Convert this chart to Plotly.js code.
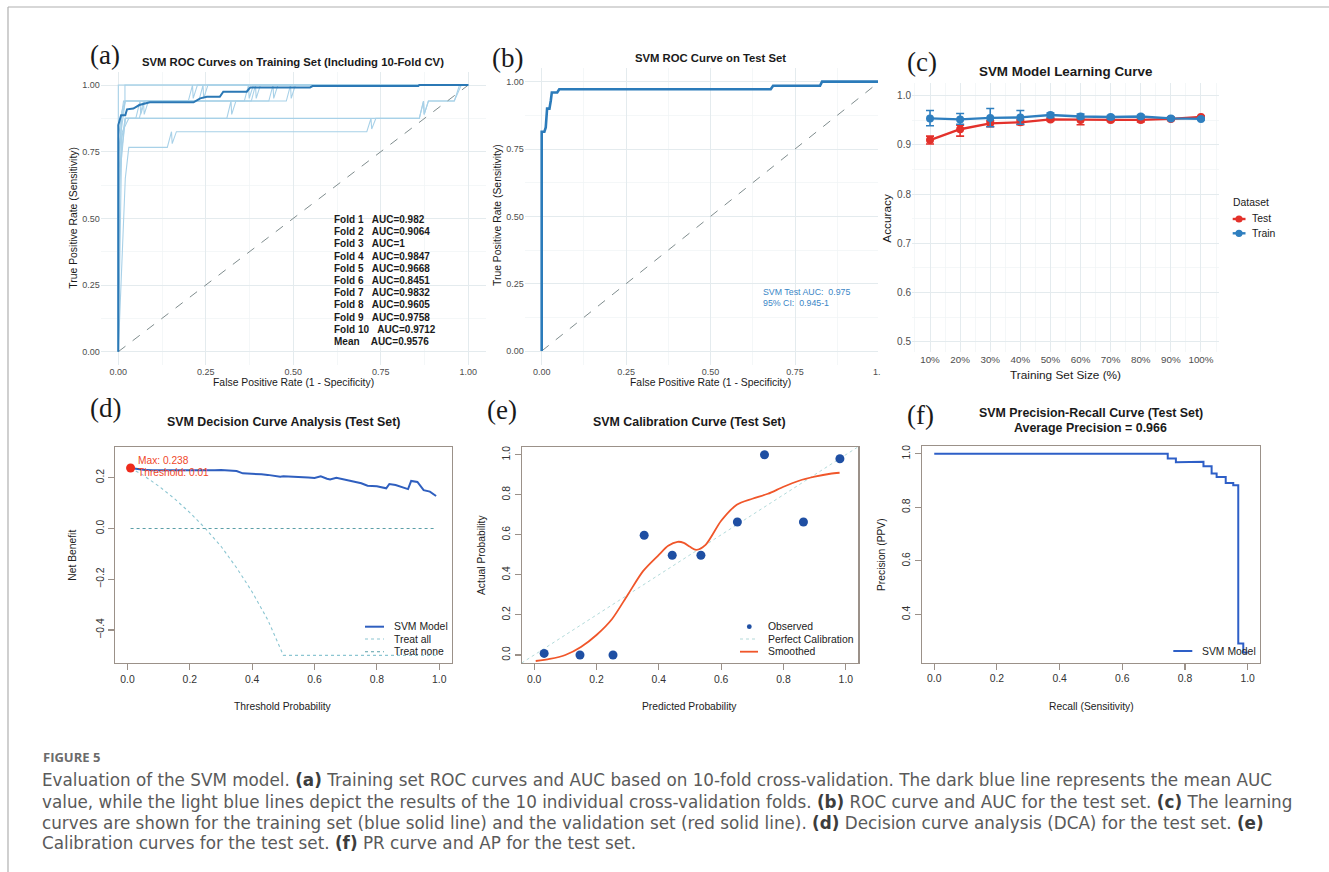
<!DOCTYPE html>
<html><head><meta charset="utf-8">
<script src="https://cdn.plot.ly/plotly-3.0.1.min.js"></script>
<style>html,body{margin:0;padding:0;background:#fff;overflow:hidden}#chart{width:1329px;height:872px}</style>
</head><body><div id="chart"></div>
<script>
// ---------- (a) training ROC, 10-fold CV ----------
const foldNames = ["Fold 1","Fold 2","Fold 3","Fold 4","Fold 5","Fold 6","Fold 7","Fold 8","Fold 9","Fold 10"];
const foldAUC = ["0.982","0.9064","1","0.9847","0.9668","0.8451","0.9832","0.9605","0.9758","0.9712"];
const meanAUC = "0.9576";
const foldFPR = [
  [0,0,0.01,0.02,0.2,0.212,0.214,0.226,1],
  [0,0,0.01,0.03,0.86,0.872,0.874,0.886,0.96,0.975,1],
  [0,0,1],
  [0,0,0.015,0.23,0.242,0.244,0.256,1],
  [0,0,0.02,0.05,0.062,0.064,0.076,0.43,0.442,0.444,0.456,1],
  [0,0.02,0.03,0.14,0.152,0.154,0.166,0.71,0.722,0.724,0.736,0.86,0.872,0.874,0.886,0.96,0.98,1],
  [0,0,0.01,0.019,0.019,1],
  [0,0.005,0.02,0.31,0.322,0.324,0.336,0.36,0.372,0.374,0.386,1],
  [0,0,0.02,0.38,0.392,0.394,0.406,1],
  [0,0.01,0.02,0.06,0.072,0.074,0.086,0.48,0.492,0.494,0.506,1]
];
const foldTPR = [
  [0,0.7,0.88,0.94,0.94,1,0.95,1,1],
  [0,0.5,0.82,0.875,0.875,0.94,0.89,0.94,0.94,1,1],
  [0,1,1],
  [0,0.8,0.94,0.94,1,0.95,1,1],
  [0,0.6,0.875,0.875,0.94,0.89,0.94,0.94,1,0.95,1,1],
  [0,0.65,0.766,0.766,0.825,0.78,0.825,0.825,0.875,0.835,0.875,0.875,0.94,0.89,0.94,0.94,1,1],
  [0,0.6,0.9,0.94,1,1],
  [0,0.7,0.875,0.875,0.94,0.89,0.94,0.94,1,0.95,1,1],
  [0,0.75,0.94,0.94,1,0.95,1,1],
  [0,0.8,0.875,0.875,0.94,0.89,0.94,0.94,1,0.95,1,1]
];
const meanFPR = [0,0,0.008,0.02,0.025,0.043,0.06,0.09,0.215,0.234,0.253,0.29,0.3,0.367,0.377,0.548,0.555,0.857,0.86,1];
const meanTPR = [0,0.85,0.887,0.887,0.909,0.912,0.925,0.935,0.935,0.95,0.956,0.956,0.975,0.975,0.991,0.991,0.996,0.996,1,1];
const chanceLine = [0,1];

// ---------- (b) test ROC ----------
const testFPR = [0,0,0.008,0.012,0.016,0.023,0.027,0.03,0.046,0.052,0.678,0.685,0.824,0.83,1];
const testTPR = [0,0.814,0.814,0.83,0.9,0.9,0.93,0.96,0.96,0.972,0.972,0.985,0.985,1,1];
const testAUCText = ["SVM Test AUC:  0.975","95% CI:  0.945-1"];

// ---------- (c) learning curve ----------
const sizePct = [10,20,30,40,50,60,70,80,90,100];
const trainAcc = [0.954,0.952,0.955,0.956,0.961,0.958,0.957,0.958,0.954,0.953];
const trainHi  = [0.970,0.964,0.974,0.970,0.965,0.963,0.960,0.961,0.956,0.955];
const trainLo  = [0.939,0.942,0.937,0.942,0.956,0.954,0.953,0.955,0.952,0.951];
const testAcc  = [0.910,0.932,0.944,0.946,0.952,0.951,0.951,0.951,0.953,0.957];
const testHi   = [0.918,0.940,0.949,0.951,0.954,0.957,0.954,0.955,0.956,0.959];
const testLo   = [0.902,0.918,0.937,0.941,0.949,0.941,0.948,0.947,0.950,0.955];

// ---------- (d) decision curve ----------
const dcaThresh = [0.01,0.03,0.05,0.08,0.1,0.13,0.15,0.18,0.2,0.23,0.25,0.28,0.3,0.33,0.35,0.37,0.4,0.43,0.45,0.47,0.49,0.5,0.53,0.55,0.58,0.6,0.62,0.64,0.65,0.67,0.7,0.72,0.75,0.77,0.8,0.83,0.84,0.86,0.88,0.9,0.91,0.93,0.95,0.97,0.99];
const dcaModel  = [0.238,0.233,0.231,0.229,0.229,0.228,0.229,0.228,0.228,0.227,0.228,0.229,0.230,0.229,0.226,0.217,0.216,0.213,0.211,0.208,0.204,0.206,0.205,0.203,0.201,0.199,0.205,0.196,0.193,0.2,0.191,0.184,0.178,0.168,0.166,0.158,0.175,0.171,0.164,0.155,0.187,0.183,0.151,0.145,0.128];
const treatAllThresh = [0.01,0.05,0.1,0.15,0.2,0.25,0.3,0.35,0.4,0.45,0.5,0.99];
const treatAllNB     = [0.238,0.21,0.167,0.118,0.0625,0,-0.07,-0.155,-0.25,-0.36,-0.5,-0.5];
const treatNoneThresh = [0.01,0.99];
const treatNoneNB = [0,0];
const maxThresh = [0.01], maxNB = [0.238];

// ---------- (e) calibration ----------
const calPred = [0.032,0.147,0.253,0.353,0.443,0.535,0.652,0.739,0.864,0.981];
const calObs  = [0.008,0,0,0.598,0.498,0.498,0.664,1.0,0.664,0.98];
const smoothPred = [0.005,0.05,0.1,0.15,0.2,0.25,0.3,0.35,0.4,0.43,0.46,0.48,0.5,0.52,0.55,0.6,0.65,0.7,0.75,0.8,0.85,0.9,0.95,0.98];
const smoothObs  = [-0.03,-0.02,0.0,0.04,0.1,0.18,0.3,0.42,0.5,0.545,0.565,0.56,0.54,0.525,0.55,0.67,0.75,0.78,0.805,0.84,0.87,0.89,0.905,0.91];
const perfectLine = [-0.04,1.04];

// ---------- (f) precision-recall ----------
const prRecall    = [0,0.745,0.745,0.771,0.771,0.80,0.81,0.859,0.859,0.885,0.885,0.901,0.901,0.93,0.93,0.954,0.954,0.97,0.97,0.986,0.986,1.0];
const prPrecision = [1,1,0.982,0.982,0.968,0.968,0.97,0.97,0.953,0.953,0.926,0.926,0.913,0.913,0.891,0.891,0.882,0.882,0.292,0.292,0.258,0.258];

// ---------- caption ----------
const captionHead = "FIGURE 5";
const captionLines = [
  "Evaluation of the SVM model. <b>(a)</b> Training set ROC curves and AUC based on 10-fold cross-validation. The dark blue line represents the mean AUC",
  "value, while the light blue lines depict the results of the 10 individual cross-validation folds. <b>(b)</b> ROC curve and AUC for the test set. <b>(c)</b> The learning",
  "curves are shown for the training set (blue solid line) and the validation set (red solid line). <b>(d)</b> Decision curve analysis (DCA) for the test set. <b>(e)</b>",
  "Calibration curves for the test set. <b>(f)</b> PR curve and AP for the test set."
];

// ================= layout helpers =================
const W = 1329, H = 872;
const px = v => v / W, py = v => 1 - v / H;
const SANS = "Liberation Sans, Arial, sans-serif";
const SERIF = "Liberation Serif, Times New Roman, serif";
const dx = (a, b) => [px(a), px(b)];
const dy = (top, bot) => [py(bot), py(top)];

const traces = [];
// (a)
foldFPR.forEach((f, i) => traces.push({x: f, y: foldTPR[i], xaxis: 'x', yaxis: 'y', mode: 'lines',
  line: {color: '#a8d1e8', width: 1.1}, name: foldNames[i], showlegend: false, hoverinfo: 'skip'}));
traces.push({x: chanceLine, y: chanceLine, xaxis: 'x', yaxis: 'y', mode: 'lines',
  line: {color: '#7f8c8d', width: 1, dash: 'dash'}, showlegend: false});
traces.push({x: meanFPR, y: meanTPR, xaxis: 'x', yaxis: 'y', mode: 'lines',
  line: {color: '#2b78b5', width: 2}, name: 'Mean', showlegend: false});
// (b)
traces.push({x: chanceLine, y: chanceLine, xaxis: 'x2', yaxis: 'y2', mode: 'lines',
  line: {color: '#7f8c8d', width: 1, dash: 'dash'}, showlegend: false});
traces.push({x: testFPR, y: testTPR, xaxis: 'x2', yaxis: 'y2', mode: 'lines',
  line: {color: '#2b7bba', width: 2.6}, showlegend: false});
// (c)
const RED = '#e3312b', BLUE = '#2f7fbf';
traces.push({x: sizePct, y: testAcc, xaxis: 'x3', yaxis: 'y3', mode: 'lines+markers', name: 'Test',
  line: {color: RED, width: 2.4}, marker: {color: RED, size: 8},
  error_y: {type: 'data', symmetric: false, array: testHi.map((h, i) => h - testAcc[i]),
    arrayminus: testLo.map((l, i) => testAcc[i] - l), color: RED, thickness: 1.6, width: 4}, showlegend: false});
traces.push({x: sizePct, y: trainAcc, xaxis: 'x3', yaxis: 'y3', mode: 'lines+markers', name: 'Train',
  line: {color: BLUE, width: 2.4}, marker: {color: BLUE, size: 8},
  error_y: {type: 'data', symmetric: false, array: trainHi.map((h, i) => h - trainAcc[i]),
    arrayminus: trainLo.map((l, i) => trainAcc[i] - l), color: BLUE, thickness: 1.6, width: 4}, showlegend: false});
// (d)
traces.push({x: treatAllThresh, y: treatAllNB, xaxis: 'x4', yaxis: 'y4', mode: 'lines', line: {color: '#8cc6d2', width: 1.1, dash: 'dot'}, showlegend: false});
traces.push({x: treatNoneThresh, y: treatNoneNB, xaxis: 'x4', yaxis: 'y4', mode: 'lines', line: {color: '#5b9fa8', width: 1.1, dash: 'dot'}, showlegend: false});
traces.push({x: dcaThresh, y: dcaModel, xaxis: 'x4', yaxis: 'y4', mode: 'lines', line: {color: '#2f5fbf', width: 2}, showlegend: false});
traces.push({x: maxThresh, y: maxNB, xaxis: 'x4', yaxis: 'y4', mode: 'markers', marker: {color: '#ee2b1c', size: 9}, showlegend: false});
// (e)
traces.push({x: perfectLine, y: perfectLine, xaxis: 'x5', yaxis: 'y5', mode: 'lines', line: {color: '#b3dada', width: 1, dash: 'dot'}, showlegend: false});
traces.push({x: smoothPred, y: smoothObs, xaxis: 'x5', yaxis: 'y5', mode: 'lines', line: {color: '#f0562a', width: 1.8, shape: 'spline', smoothing: 0.8}, showlegend: false});
traces.push({x: calPred, y: calObs, xaxis: 'x5', yaxis: 'y5', mode: 'markers', marker: {color: '#1f4fa3', size: 9}, showlegend: false});
// (f)
traces.push({x: prRecall, y: prPrecision, xaxis: 'x6', yaxis: 'y6', mode: 'lines', line: {color: '#2e5fc7', width: 2}, showlegend: false});

// axes
const gg = (extra) => Object.assign({showgrid: true, gridcolor: '#e4ebee', gridwidth: 1, zeroline: false, showline: false,
  ticks: '', tickfont: {family: SANS, size: 9, color: '#4d4d4d'}, fixedrange: true}, extra);
const rb = (extra) => Object.assign({showgrid: false, zeroline: false, showline: true, mirror: true, linecolor: '#9b9189',
  linewidth: 1.2, ticks: 'outside', ticklen: 6, tickwidth: 1.1, tickcolor: '#9b9189',
  tickfont: {family: SANS, size: 10.4, color: '#333'}, fixedrange: true}, extra);
const minorG = (d) => ({dtick: d, showgrid: true, gridcolor: '#f0f4f5', gridwidth: 0.7});

const layout = {
  width: W, height: H, margin: {l: 0, r: 0, t: 0, b: 0}, paper_bgcolor: '#fff', plot_bgcolor: 'rgba(0,0,0,0)',
  font: {family: SANS}, showlegend: false,
  xaxis:  gg({domain: dx(100.8, 485.8), range: [-0.05, 1.05], tick0: 0, dtick: 0.25, tickformat: '.2f', minor: minorG(0.125), anchor: 'y'}),
  yaxis:  gg({domain: dy(71.7, 365), range: [-0.05, 1.05], tick0: 0, dtick: 0.25, tickformat: '.2f', minor: minorG(0.125), anchor: 'x'}),
  xaxis2: gg({domain: dx(524.8, 878), range: [-0.05, 0.9956], tick0: 0, dtick: 0.25, tickformat: '.2f', minor: minorG(0.125), anchor: 'y2'}),
  yaxis2: gg({domain: dy(68.2, 364.5), range: [-0.05, 1.05], tick0: 0, dtick: 0.25, tickformat: '.2f', minor: minorG(0.125), anchor: 'x2'}),
  xaxis3: gg({domain: dx(912, 1219), range: [4.02, 105.98], tick0: 10, dtick: 10, ticksuffix: '%', minor: Object.assign(minorG(10), {tick0: 5}), anchor: 'y3', tickfont: {family: SANS, size: 9.8, color: '#4d4d4d'}}),
  yaxis3: gg({domain: dy(83, 352), range: [0.479, 1.026], tick0: 0.5, dtick: 0.1, tickformat: '.1f', minor: minorG(0.05), anchor: 'x3', tickfont: {family: SANS, size: 10, color: '#4d4d4d'}}),
  xaxis4: rb({domain: dx(115, 451.7), range: [-0.04, 1.04], tick0: 0, dtick: 0.2, tickformat: '.1f', anchor: 'y4'}),
  yaxis4: rb({domain: dy(446.7, 663), range: [-0.53, 0.322], tickvals: [-0.4, -0.2, 0, 0.2], tickformat: '.1f', tickangle: -90, anchor: 'x4'}),
  xaxis5: rb({domain: dx(521.7, 858.3), range: [-0.04, 1.04], tick0: 0, dtick: 0.2, tickformat: '.1f', anchor: 'y5'}),
  yaxis5: rb({domain: dy(446.7, 663), range: [-0.04, 1.04], tick0: 0, dtick: 0.2, tickformat: '.1f', tickangle: -90, anchor: 'x5'}),
  xaxis6: rb({domain: dx(921.7, 1260.2), range: [-0.04, 1.04], tick0: 0, dtick: 0.2, tickformat: '.1f', anchor: 'y6'}),
  yaxis6: rb({domain: dy(445.7, 662.7), range: [0.22, 1.03], tickvals: [0.4, 0.6, 0.8, 1.0], tickformat: '.1f', tickangle: -90, anchor: 'x6'}),
  annotations: [], shapes: []
};

const A = layout.annotations, S = layout.shapes;
const ann = (text, x, y, o) => A.push(Object.assign({text, xref: 'paper', yref: 'paper', x: px(x), y: py(y),
  showarrow: false, xanchor: 'center', yanchor: 'middle', borderpad: 0}, o || {}));
const f = (size, color, family) => ({family: family || SANS, size, color: color || '#1a1a1a'});

// panel letters
[["(a)", 105, 55], ["(b)", 507, 58.3], ["(c)", 921.7, 61.7], ["(d)", 105.8, 408.3], ["(e)", 501.7, 410], ["(f)", 920, 415]]
  .forEach(([t, x, y]) => ann(t, x, y, {font: f(27, '#1a1a1a', SERIF)}));
// titles
ann("<b>SVM ROC Curves on Training Set (Including 10-Fold CV)</b>", 293.3, 61.7, {font: f(11.3)});
ann("<b>SVM ROC Curve on Test Set</b>", 710.5, 58.3, {font: f(11.3)});
ann("<b>SVM Model Learning Curve</b>", 1065.3, 71.7, {font: f(13.4)});
ann("<b>SVM Decision Curve Analysis (Test Set)</b>", 283, 422.3, {font: f(12.4)});
ann("<b>SVM Calibration Curve (Test Set)</b>", 689.7, 422.3, {font: f(12.4)});
ann("<b>SVM Precision-Recall Curve (Test Set)</b>", 1090.8, 413.3, {font: f(12.4)});
ann("<b>Average Precision = 0.966</b>", 1090.8, 428.3, {font: f(12.4)});
// axis titles
ann("False Positive Rate (1 - Specificity)", 293.7, 382.3, {font: f(10.4)});
ann("True Positive Rate (Sensitivity)", 72.7, 218, {font: f(10.4), textangle: -90});
ann("False Positive Rate (1 - Specificity)", 710.7, 382.3, {font: f(10.4)});
ann("True Positive Rate (Sensitivity)", 497, 215, {font: f(10.4), textangle: -90});
ann("Training Set Size (%)", 1065.3, 375, {font: f(11.8)});
ann("Accuracy", 886.7, 218, {font: f(11.8), textangle: -90});
ann("Threshold Probability", 283.3, 706.7, {font: f(10.3, '#222')});
ann("Net Benefit", 71.7, 555, {font: f(10.3, '#222'), textangle: -90});
ann("Predicted Probability", 689.8, 706.7, {font: f(10.3, '#222')});
ann("Actual Probability", 481, 555, {font: f(10.3, '#222'), textangle: -90});
ann("Recall (Sensitivity)", 1091, 706.7, {font: f(10.3, '#222')});
ann("Precision (PPV)", 881, 555, {font: f(10.3, '#222'), textangle: -90});

// (a) fold AUC list
const NB = '\u00a0';
foldNames.forEach((n, i) => ann(`<b>${n}${NB.repeat(3)}AUC=${foldAUC[i]}</b>`, 333, 219.3 + 12.24 * i, {xanchor: 'left', font: f(10, '#1a1a1a')}));
ann(`<b>Mean${NB.repeat(4)}AUC=${meanAUC}</b>`, 333, 219.3 + 12.24 * 10, {xanchor: 'left', font: f(10, '#1a1a1a')});
// (b) AUC text
ann(testAUCText[0].replace(/  /g, NB + NB), 761.7, 291.7, {xanchor: 'left', font: f(8.8, '#3a86c6')});
ann(testAUCText[1].replace(/  /g, NB + NB), 761.7, 303.3, {xanchor: 'left', font: f(8.8, '#3a86c6')});
ann("1.", 872, 371.7, {xanchor: 'left', font: f(9, '#4d4d4d')});
// (d) max label
ann("Max: 0.238", 136.7, 460.7, {xanchor: 'left', font: f(10.2, '#f0472a')});
ann("Threshold: 0.01", 136.7, 472.7, {xanchor: 'left', font: f(10.2, '#f0472a')});

// manual legends
const seg = (x0, x1, y, color, width, dash) => S.push({type: 'line', xref: 'paper', yref: 'paper', x0: px(x0), x1: px(x1), y0: py(y), y1: py(y), line: {color, width, dash: dash || 'solid'}});
const dot = (x, y, r, color) => S.push({type: 'circle', xref: 'paper', yref: 'paper', x0: px(x - r), x1: px(x + r), y0: py(y + r), y1: py(y - r), fillcolor: color, line: {color, width: 0}});
// (c)
ann("Dataset", 1231.7, 202.3, {xanchor: 'left', font: f(10.4, '#1a1a1a')});
seg(1232.7, 1245.5, 219, RED, 2.4); dot(1239, 219, 3.6, RED); ann("Test", 1251, 219, {xanchor: 'left', font: f(10.4, '#1a1a1a')});
seg(1232.7, 1245.5, 233.3, BLUE, 2.4); dot(1239, 233.3, 3.6, BLUE); ann("Train", 1251, 233.3, {xanchor: 'left', font: f(10.4, '#1a1a1a')});
// (d)
seg(365, 384, 626.7, '#2f5fbf', 2); ann("SVM Model", 392.7, 626.7, {xanchor: 'left', font: f(10.4, '#222')});
seg(365, 384, 639, '#8cc6d2', 1.1, 'dot'); ann("Treat all", 392.7, 639, {xanchor: 'left', font: f(10.4, '#222')});
seg(365, 384, 651.7, '#5b9fa8', 1.1, 'dot'); ann("Treat none", 392.7, 651.7, {xanchor: 'left', font: f(10.4, '#222')});
// (e)
dot(749.3, 626.7, 2.4, '#1f4fa3'); ann("Observed", 767.3, 626.7, {xanchor: 'left', font: f(10.4, '#222')});
seg(740, 758, 639, '#b3dada', 1.1, 'dot'); ann("Perfect Calibration", 767.3, 639, {xanchor: 'left', font: f(10.4, '#222')});
seg(740, 758, 651.7, '#f0562a', 1.8); ann("Smoothed", 767.3, 651.7, {xanchor: 'left', font: f(10.4, '#222')});
// (f)
seg(1173.3, 1192.3, 651, '#2e5fc7', 2); ann("SVM Model", 1201, 651, {xanchor: 'left', font: f(10.4, '#222')});

// frame
S.push({type: 'line', xref: 'paper', yref: 'paper', x0: px(8), x1: 1, y0: py(7), y1: py(7), line: {color: '#b0b0b0', width: 1.2}});
S.push({type: 'line', xref: 'paper', yref: 'paper', x0: px(8), x1: px(8), y0: py(7), y1: 0, line: {color: '#b0b0b0', width: 1.2}});

// caption
const CAP = "DejaVu Sans, Open Sans, sans-serif";
ann(`<b>${captionHead}</b>`, 41.5, 757, {xanchor: 'left', font: {family: "Open Sans, sans-serif", size: 13, color: '#6b6b6b'}});
[780, 801.7, 822.7, 843.3].forEach((y, i) => ann(captionLines[i].replace(/<b>/g, '<b><span style="color:#3d3d3d">').replace(/<\/b>/g, '</span></b>'),
  41, y, {xanchor: 'left', font: {family: CAP, size: 16.8, color: '#5a5a5a'}}));

Plotly.newPlot('chart', traces, layout, {displayModeBar: false, staticPlot: true});
</script></body></html>
